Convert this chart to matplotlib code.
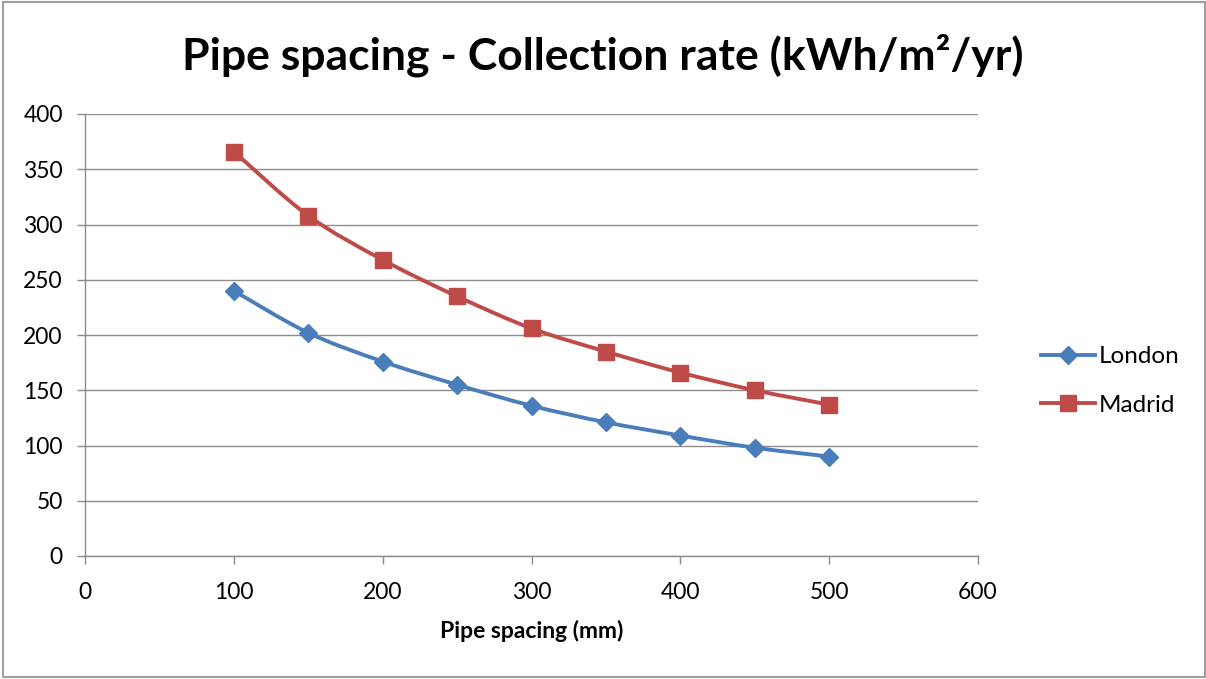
import numpy as np
import matplotlib
matplotlib.use("Agg")
import matplotlib.pyplot as plt
from matplotlib.path import Path
from matplotlib.patches import PathPatch, Rectangle
from matplotlib.lines import Line2D

pipe_spacing = [100, 150, 200, 250, 300, 350, 400, 450, 500]
london = [240, 202, 176, 155, 136, 121, 109, 98, 90]
madrid = [366, 308, 268, 235, 206, 185, 166, 150, 137]

x_ticks = [0, 100, 200, 300, 400, 500, 600]
y_ticks = [0, 50, 100, 150, 200, 250, 300, 350, 400]

title = "Pipe spacing - Collection rate (kWh/m²/yr)"
x_label = "Pipe spacing (mm)"

BLUE = "#4a7ebb"
RED = "#be4b48"
GRID = "#8c8c8c"

plt.rcParams["font.family"] = ["Lato", "DejaVu Sans"]

fig = plt.figure(figsize=(12.06, 6.79), dpi=100)
ax = fig.add_axes([85 / 1206, 1 - 556 / 679, (978 - 85) / 1206, (556 - 114) / 679])

# outer chart border
fig.patches.append(Rectangle((3 / 1206, 2 / 679), 1202 / 1206, 675 / 679,
                             transform=fig.transFigure, fill=False,
                             edgecolor="#a0a0a0", linewidth=1.5))


def smooth_path(xs, ys):
    """Catmull-Rom style cubic Bezier through the points."""
    pts = np.column_stack([xs, ys]).astype(float)
    n = len(pts)
    verts = [pts[0]]
    codes = [Path.MOVETO]
    for i in range(n - 1):
        p0 = pts[i - 1] if i > 0 else pts[i]
        p1 = pts[i]
        p2 = pts[i + 1]
        p3 = pts[i + 2] if i + 2 < n else pts[i + 1]
        c1 = p1 + (p2 - p0) / 6.0
        c2 = p2 - (p3 - p1) / 6.0
        verts += [c1, c2, p2]
        codes += [Path.CURVE4] * 3
    return Path(verts, codes)


DIAMOND_MS = 9.5
SQUARE_MS = 12
LW = 2.8

for vals, color, marker, ms in [
    (london, BLUE, "D", DIAMOND_MS),
    (madrid, RED, "s", SQUARE_MS),
]:
    ax.add_patch(PathPatch(smooth_path(pipe_spacing, vals), facecolor="none",
                           edgecolor=color, linewidth=LW, zorder=3,
                           capstyle="round", joinstyle="round"))
    ax.plot(pipe_spacing, vals, linestyle="none", marker=marker, markersize=ms,
            color=color, markeredgecolor=color, zorder=4)

ax.set_xlim(0, 600)
ax.set_ylim(0, 400)
ax.set_xticks(x_ticks)
ax.set_yticks(y_ticks)
ax.grid(axis="y", color=GRID, linewidth=1.0)
ax.set_axisbelow(True)
for side in ["top", "right"]:
    ax.spines[side].set_visible(False)
for side in ["left", "bottom"]:
    ax.spines[side].set_color(GRID)
    ax.spines[side].set_linewidth(1.0)
ax.tick_params(axis="both", colors=GRID, labelcolor="black", labelsize=16.5,
               length=6, width=1.0)
ax.tick_params(axis="x", pad=13)
ax.tick_params(axis="y", pad=10)

ax.set_xlabel(x_label, fontsize=16.5, fontweight="bold", va="center")
ax.xaxis.set_label_coords(0.5 * (432 + 632) / 893 - 85 / 893, -75 / 442)

fig.text(0.5 * (185 + 1020) / 1206, 1 - 55 / 679, title, fontsize=32,
         fontweight="bold", ha="center", va="center")

handles = [
    Line2D([], [], color=BLUE, marker="D", markersize=DIAMOND_MS, linewidth=LW),
    Line2D([], [], color=RED, marker="s", markersize=SQUARE_MS, linewidth=LW),
]
fig.legend(handles, ["London", "Madrid"], loc="center left",
           bbox_to_anchor=(1029 / 1206, 1 - 381 / 679), frameon=False,
           fontsize=17.5, handlelength=2.2, handletextpad=0.15,
           labelspacing=1.15, borderpad=0)

fig.savefig("out.png", dpi=100)
